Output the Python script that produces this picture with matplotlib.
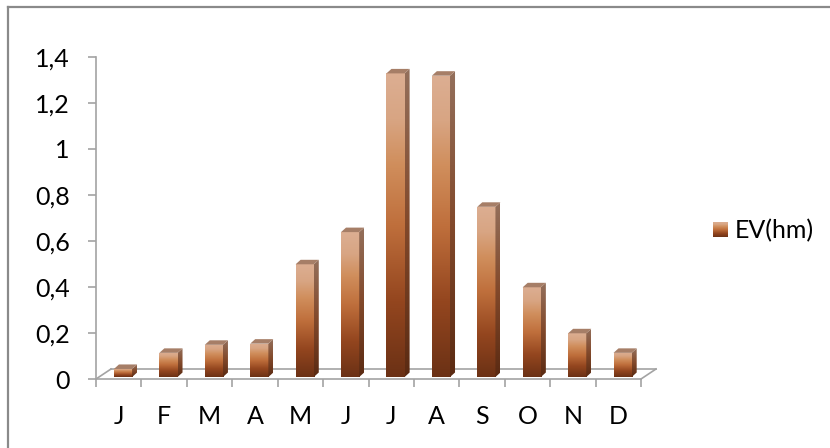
import matplotlib
matplotlib.use('Agg')
import matplotlib.pyplot as plt
import matplotlib.transforms as mtransforms
from matplotlib.colors import LinearSegmentedColormap
from matplotlib.patches import Polygon
from matplotlib.lines import Line2D
import numpy as np

# monthly values, EV in hm
months = ['J', 'F', 'M', 'A', 'M', 'J', 'J', 'A', 'S', 'O', 'N', 'D']
ev_hm = [0.035, 0.105, 0.14, 0.145, 0.49, 0.63, 1.32, 1.31, 0.74, 0.39, 0.19, 0.105]
yticks = [0, 0.2, 0.4, 0.6, 0.8, 1.0, 1.2, 1.4]
ytick_labels = ['0', '0,2', '0,4', '0,6', '0,8', '1', '1,2', '1,4']
series_name = 'EV(hm)'

plt.rcParams['font.family'] = ['Lato', 'DejaVu Sans']
fs = 18

W, H = 830, 448
fig = plt.figure(figsize=(W / 100, H / 100), dpi=100)
ax = fig.add_axes([96 / W, (H - 379) / H, 545 / W, 322 / H])
ax.set_xlim(0, 12)
ax.set_ylim(0, 1.4)

grid_col = '#a3a3a3'
px_x = 545 / 12.0   # pixels per category
px_y = 322 / 1.4    # pixels per unit

front_cmap = LinearSegmentedColormap.from_list('front', [
    (0.0, '#6b3115'), (0.25, '#94461f'), (0.5, '#bf6f3c'),
    (0.7, '#d08e5c'), (0.85, '#d8a583'), (1.0, '#dcae92')])
side_cmap = LinearSegmentedColormap.from_list('side', [
    (0.0, '#5a2a12'), (0.5, '#82492b'), (1.0, '#94705c')])
grad = np.linspace(0, 1, 256).reshape(-1, 1)

# floor of the 3d plot
dxf, dyf = 15 / px_x, 10 / px_y
for xa, ya, xb, yb in [(dxf, dyf, 12 + dxf, dyf), (0, 0, dxf, dyf), (12, 0, 12 + dxf, dyf)]:
    ax.add_line(Line2D([xa, xb], [ya, yb], color=grid_col, lw=1.2, clip_on=False, zorder=1))

# bars sit a bit behind the front edge
shift = mtransforms.ScaledTranslation(0, 2 / 100, fig.dpi_scale_trans)
trans = ax.transData + shift
bw = 0.4
xs = np.arange(12) + 0.595
dx, dy = 5 / px_x, 4.5 / px_y

bars = ax.bar(xs, ev_hm, width=bw, color='none', edgecolor='none', transform=trans, zorder=3)
for x, v, rect in zip(xs, ev_hm, bars):
    x0, x1 = x - bw / 2, x + bw / 2
    im = ax.imshow(grad, cmap=front_cmap, origin='lower', aspect='auto',
                   extent=[x0, x1, 0, v], transform=trans, zorder=3)
    im.set_clip_path(rect)
    # right side face
    side = Polygon([(x1, 0), (x1 + dx, dy), (x1 + dx, v + dy), (x1, v)],
                   closed=True, facecolor='none', edgecolor='none', transform=trans)
    ax.add_patch(side)
    ims = ax.imshow(grad, cmap=side_cmap, origin='lower', aspect='auto',
                    extent=[x1, x1 + dx, 0, v + dy], transform=trans, zorder=3)
    ims.set_clip_path(side)
    # top face
    ax.add_patch(Polygon([(x0, v), (x1, v), (x1 + dx, v + dy), (x0 + dx, v + dy)],
                         closed=True, facecolor='#a67e67', edgecolor='none',
                         transform=trans, zorder=4))

ax.set_xlim(0, 12)
ax.set_ylim(0, 1.4)

for s in ['top', 'right']:
    ax.spines[s].set_visible(False)
for s in ['left', 'bottom']:
    ax.spines[s].set_color(grid_col)
    ax.spines[s].set_linewidth(1.2)

ax.set_yticks(yticks)
ax.set_yticklabels(ytick_labels)
ax.tick_params(axis='y', length=5.8, width=1.2, color=grid_col, pad=13, labelsize=fs)

ax.set_xticks(np.arange(13))
ax.set_xticklabels([])
ax.tick_params(axis='x', which='major', length=5.8, width=1.2, color=grid_col)
ax.set_xticks(np.arange(12) + 0.5, minor=True)
ax.set_xticklabels(months, minor=True)
ax.tick_params(axis='x', which='minor', length=0, pad=19, labelsize=fs)

# legend
lax = fig.add_axes([713 / W, (H - 237) / H, 15 / W, 15 / H])
lax.imshow(grad, cmap=front_cmap, origin='lower', aspect='auto')
lax.axis('off')
fig.text(735 / W, 1 - 231 / H, series_name, va='center', ha='left', fontsize=fs)

# chart area border
fig.add_artist(Line2D([8 / W, 8 / W], [0, 1 - 7 / H], color='#8a8a8a', lw=1.6,
                      transform=fig.transFigure))
fig.add_artist(Line2D([8 / W, 1], [1 - 7 / H, 1 - 7 / H], color='#8a8a8a', lw=1.6,
                      transform=fig.transFigure))

fig.savefig('out.png', dpi=100)
